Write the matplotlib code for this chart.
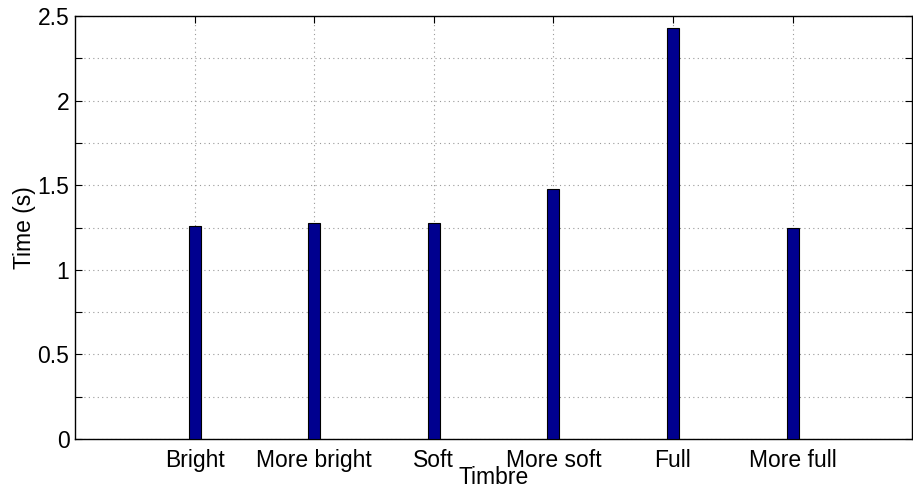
import matplotlib
matplotlib.use("Agg")
from matplotlib import pyplot as plt

timbres = ["Bright", "More bright", "Soft", "More soft", "Full", "More full"]
times = [1.26, 1.28, 1.28, 1.48, 2.43, 1.25]
ytick_vals = [0, 0.5, 1, 1.5, 2, 2.5]
ytick_labels = ["0", "0.5", "1", "1.5", "2", "2.5"]
yminor_vals = [0.25, 0.75, 1.25, 1.75, 2.25]

plt.rcParams["font.family"] = ["Liberation Sans", "DejaVu Sans"]
plt.rcParams["font.size"] = 16.5

fig = plt.figure(figsize=(9.13, 4.9), dpi=100)
ax = fig.add_axes([0.0821, 0.104, 0.917, 0.863])

xpos = list(range(1, len(timbres) + 1))
ax.bar(xpos, times, width=0.1, color="#00008f", edgecolor="black",
       linewidth=0.8, zorder=3)

ax.set_xlim(0, 7)
ax.set_ylim(0, 2.5)
ax.set_xticks(xpos)
ax.set_xticklabels(timbres)
ax.set_yticks(ytick_vals)
ax.set_yticklabels(ytick_labels)
ax.set_yticks(yminor_vals, minor=True)

ax.grid(True, which="both", linestyle=(0, (1, 3)), color="#999999",
        linewidth=0.8, zorder=0)
ax.tick_params(which="both", direction="in", top=True, right=True,
               length=5, width=0.8, pad=4)
ax.tick_params(axis="x", pad=7)
for s in ax.spines.values():
    s.set_linewidth(1.0)

ax.set_xlabel("Timbre", labelpad=-4)
ax.set_ylabel("Time (s)", labelpad=1)

fig.savefig("out.png", dpi=100)
